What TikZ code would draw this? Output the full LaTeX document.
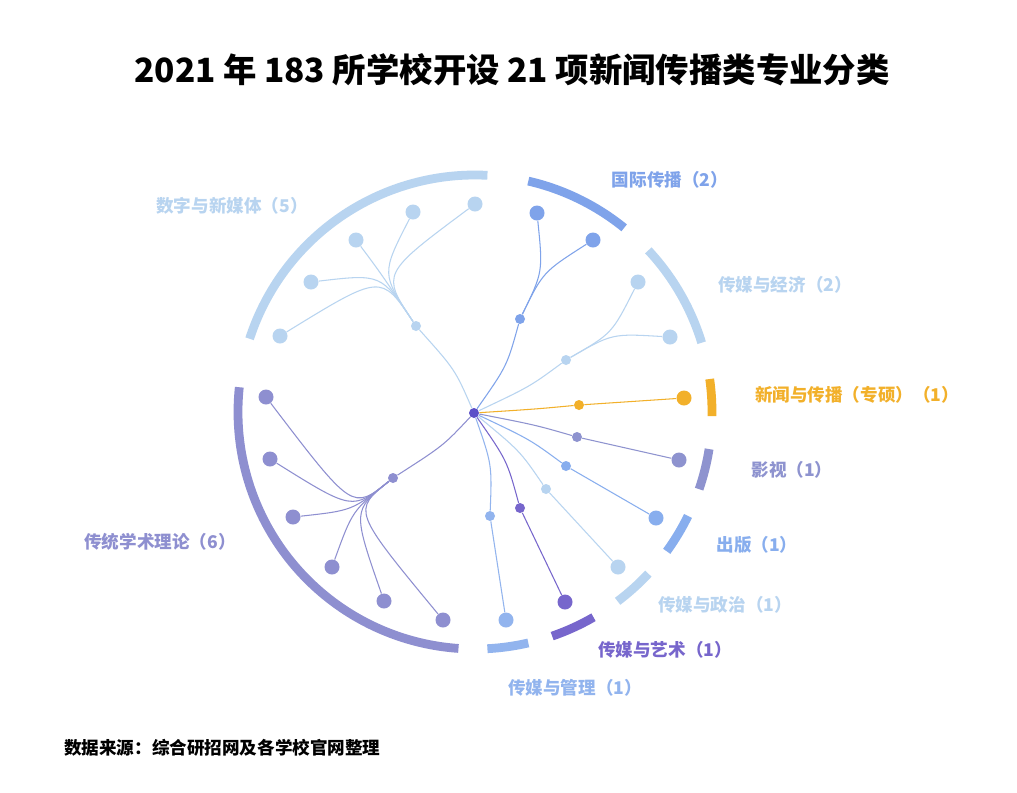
\documentclass[tikz,border=0pt]{standalone}
\usepackage{fontspec}
\usetikzlibrary{calc}
\setmainfont{Noto Sans CJK SC}
\begin{document}
\begin{tikzpicture}[x=0.02cm,y=-0.02cm,
  lab/.style={font=\bfseries\fontsize{10}{12}\selectfont},
  leaf/.style={circle,inner sep=0pt,minimum size=0.3cm},
  hub/.style={circle,inner sep=0pt,minimum size=0.2cm},
  ln/.style={line width=0.6pt},
  arcl/.style={line width=5pt}]
\useasboundingbox[fill=white] (0,0) rectangle (1017,792);
\definecolor{cA}{HTML}{B8D4F0}\definecolor{cB}{HTML}{7FA3EA}
\definecolor{cO}{HTML}{F2B02A}\definecolor{cY}{HTML}{8E93CF}
\definecolor{cC}{HTML}{88AEEE}\definecolor{cD}{HTML}{7766CC}
\definecolor{cE}{HTML}{92B4EE}\definecolor{cT}{HTML}{8E8FD0}
\definecolor{cR}{HTML}{5B4FC8}
\node[font=\bfseries\fontsize{19}{22}\selectfont] (title) at (512,70) {2021 年 183 所学校开设 21 项新闻传播类专业分类};
\node[anchor=west,font=\bfseries\fontsize{10}{12}\selectfont] (src) at (58,748) {数据来源：综合研招网及各学校官网整理};
\coordinate (C) at (475,412);
\def\R{237}
\foreach \a/\b/\c in {198/273/cA,283/309/cB,317/343/cA,352/361/cO,9/19/cY,26/36/cC,43/53/cA,60/71/cD,77/87/cE,94/186/cT}
  \draw[arcl,\c] ($(C)+(\a:\R)$) arc[start angle=\a,end angle=\b,radius=\R];
\node[hub,fill=cR] (root) at (474,413) {};
\node[hub,fill=cA] (hA) at (416,326) {};
\node[hub,fill=cB] (hB) at (520,319) {};
\node[hub,fill=cA] (hC) at (566,360) {};
\node[hub,fill=cO] (hO) at (579,405) {};
\node[hub,fill=cY] (hY) at (577,437) {};
\node[hub,fill=cC] (hCb) at (566,466) {};
\node[hub,fill=cA] (hP) at (546,489) {};
\node[hub,fill=cD] (hD) at (520,508) {};
\node[hub,fill=cE] (hE) at (490,516) {};
\node[hub,fill=cT] (hT) at (393,478) {};
\foreach \h/\c in {hA/cA,hB/cB,hC/cA,hO/cO,hY/cY,hCb/cC,hP/cA,hD/cD,hE/cE,hT/cT}
  \draw[ln,\c] (root) .. controls ($(root)!0.5!(\h)+(10,0)$) .. (\h);
\foreach \n/\x/\y in {a1/280/336,a2/311/282,a3/356/240,a4/413/212,a5/475/204}{
  \node[leaf,fill=cA] (\n) at (\x,\y) {};
  \draw[ln,cA] (hA) .. controls ($(root)!1.6!(hA)$) .. (\n);}
\foreach \n/\x/\y in {b1/537/213,b2/593/240}{
  \node[leaf,fill=cB] (\n) at (\x,\y) {};
  \draw[ln,cB] (hB) .. controls ($(root)!1.5!(hB)$) .. (\n);}
\foreach \n/\x/\y in {c1/638/282,c2/670/337}{
  \node[leaf,fill=cA] (\n) at (\x,\y) {};
  \draw[ln,cA] (hC) .. controls ($(root)!1.5!(hC)$) .. (\n);}
\node[leaf,fill=cO] (o1) at (684,398) {}; \draw[ln,cO] (hO) -- (o1);
\node[leaf,fill=cY] (y1) at (679,460) {}; \draw[ln,cY] (hY) -- (y1);
\node[leaf,fill=cC] (d1) at (656,518) {}; \draw[ln,cC] (hCb) -- (d1);
\node[leaf,fill=cA] (p1) at (618,567) {}; \draw[ln,cA] (hP) -- (p1);
\node[leaf,fill=cD] (r1) at (565,602) {}; \draw[ln,cD] (hD) -- (r1);
\node[leaf,fill=cE] (e1) at (506,620) {}; \draw[ln,cE] (hE) -- (e1);
\foreach \n/\x/\y in {t1/266/397,t2/270/459,t3/293/517,t4/332/567,t5/384/601,t6/443/620}{
  \node[leaf,fill=cT] (\n) at (\x,\y) {};
  \draw[ln,cT] (hT) .. controls ($(root)!1.5!(hT)$) .. (\n);}
\node[lab,cA] (L1) at (232,206) {数字与新媒体（5）};
\node[lab,cB] (L2) at (670,180) {国际传播（2）};
\node[lab,cA] (L3) at (785,285) {传媒与经济（2）};
\node[lab,cO] (L4) at (857,395) {新闻与传播（专硕）（1）};
\node[lab,cY] (L5) at (792,470) {影视（1）};
\node[lab,cC] (L6) at (757,545) {出版（1）};
\node[lab,cA] (L7) at (725,605) {传媒与政治（1）};
\node[lab,cD] (L8) at (665,650) {传媒与艺术（1）};
\node[lab,cE] (L9) at (575,688) {传媒与管理（1）};
\node[lab,cT] (L10) at (160,542) {传统学术理论（6）};
\end{tikzpicture}
\end{document}
